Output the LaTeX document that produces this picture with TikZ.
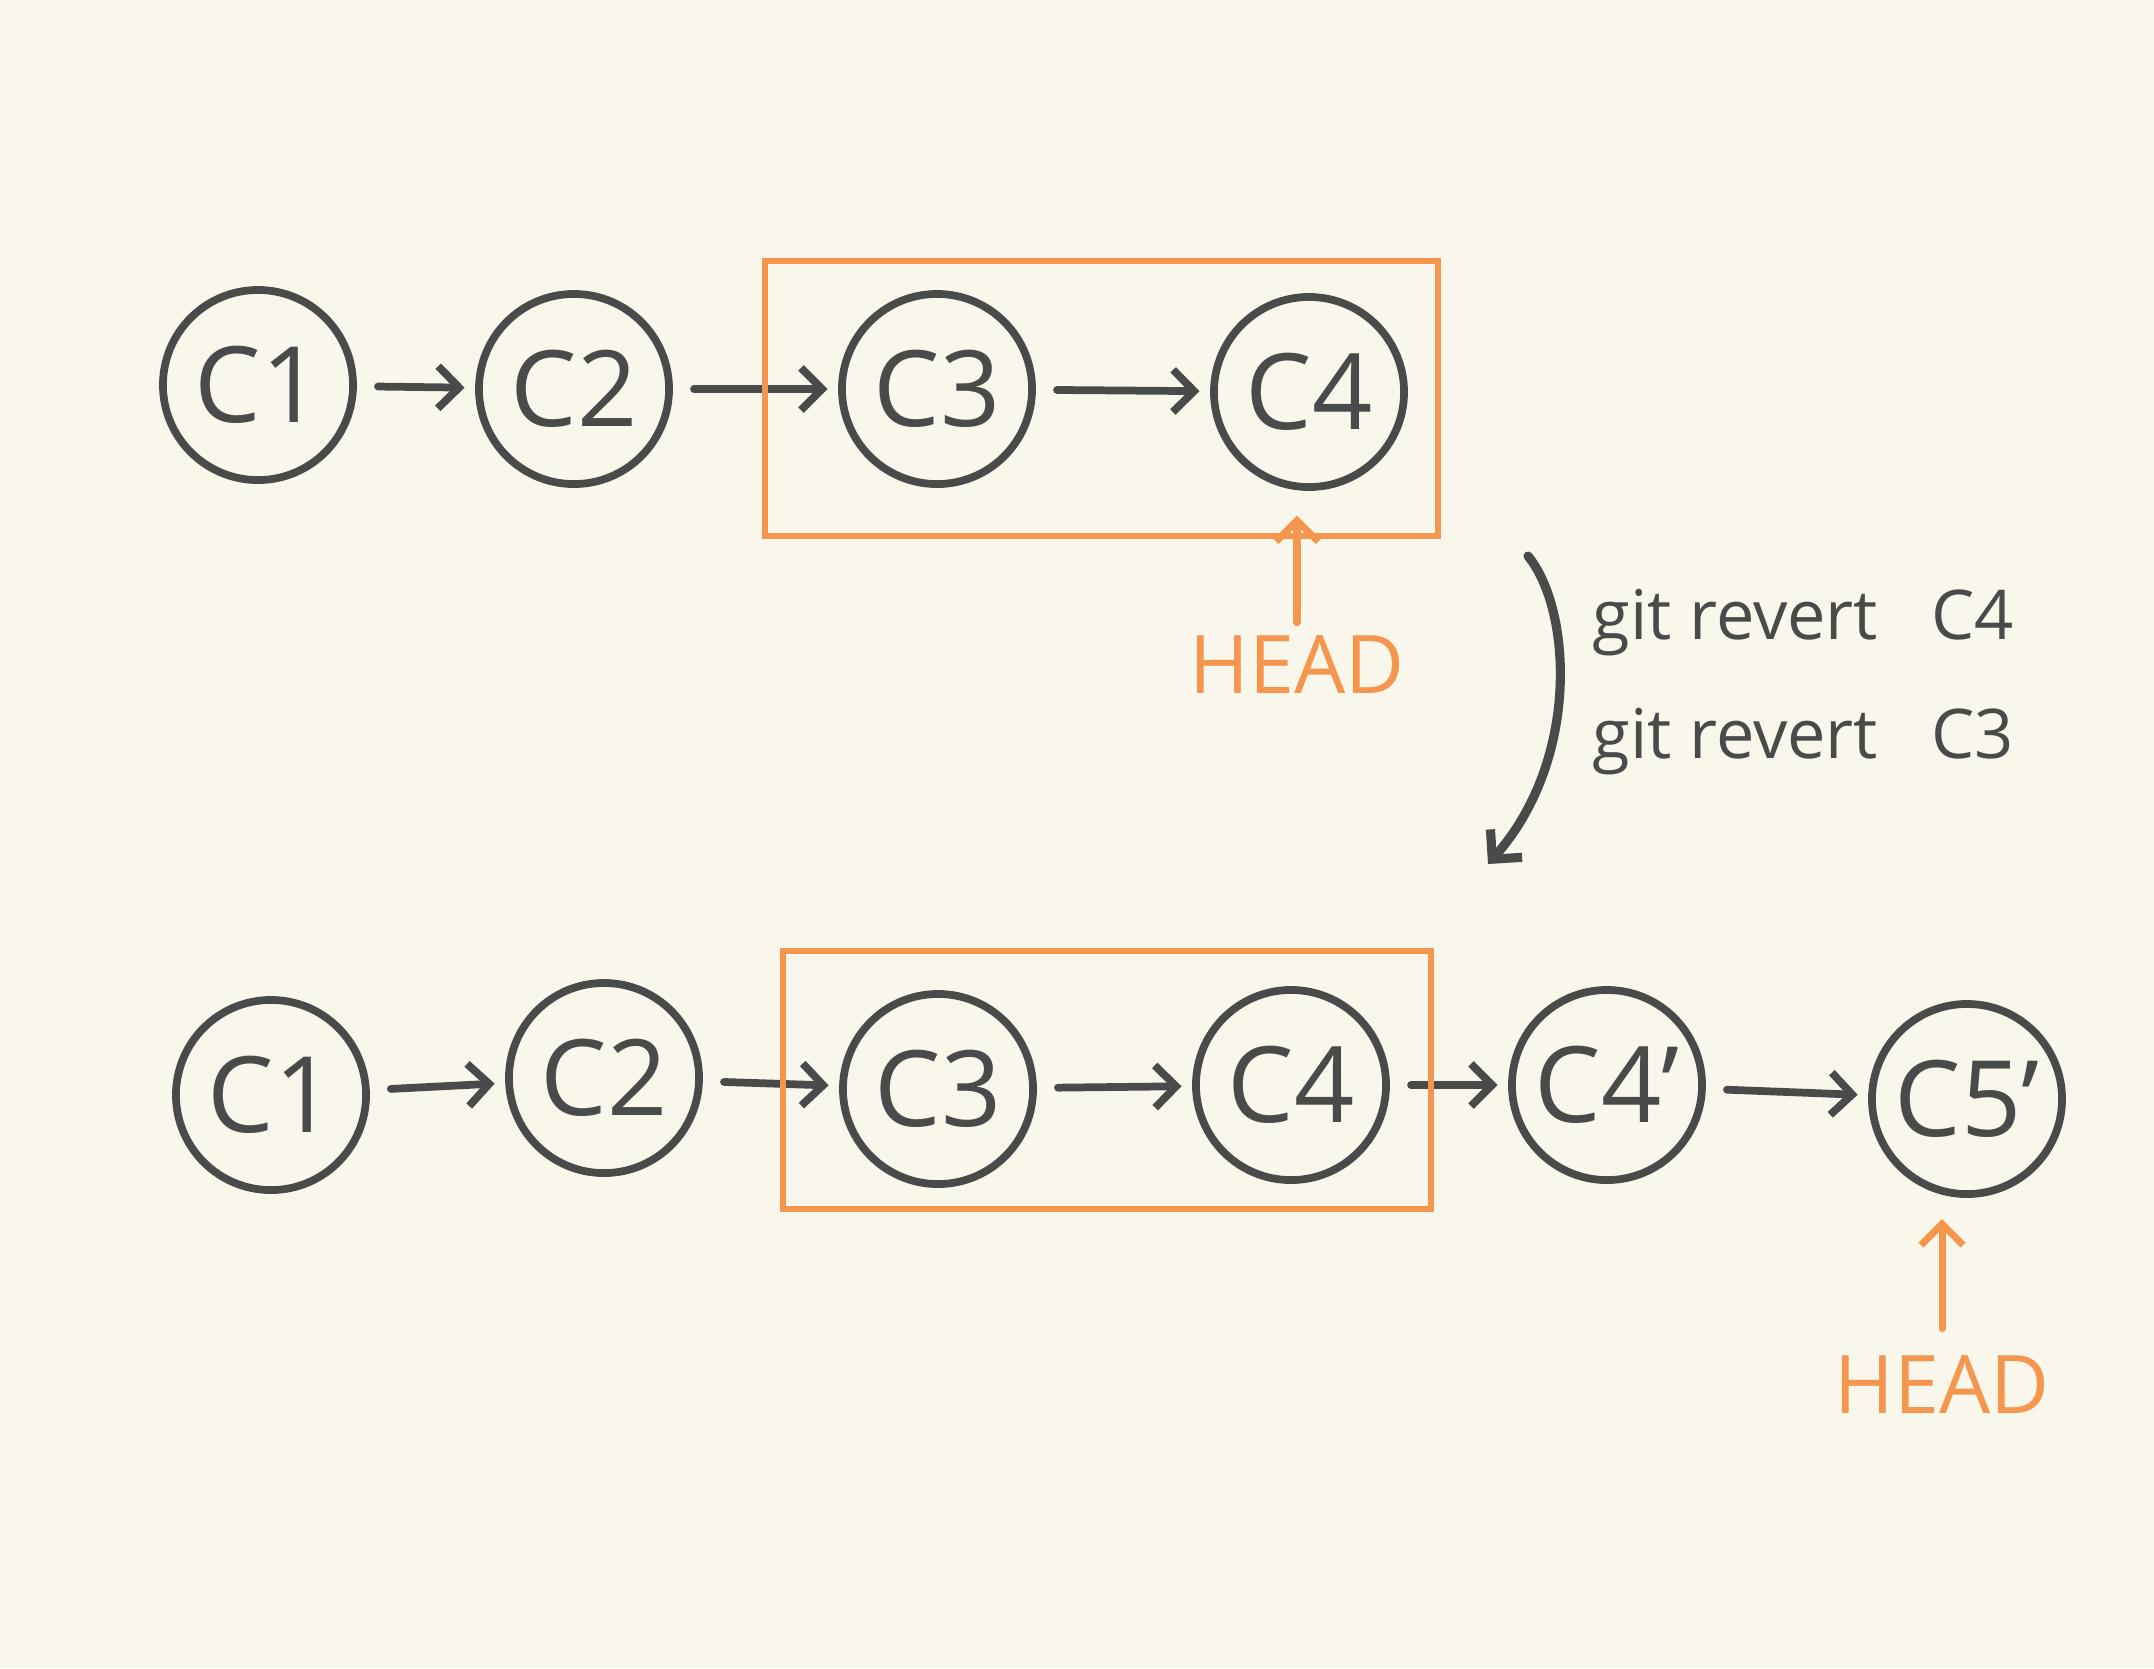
\documentclass[tikz,border=0pt]{standalone}
\usepackage{fontspec}
\setmainfont{Open Sans}
\usetikzlibrary{arrows.meta}
\tikzset{>={Straight Barb[length=6pt,width=12pt]}}
\definecolor{paper}{HTML}{F9F6EB}
\definecolor{ink}{HTML}{4A4A4A}
\definecolor{marker}{HTML}{F5964F}

\begin{document}
\begin{tikzpicture}[x=0.01cm,y=-0.01cm,
		commit/.style={circle,draw=ink,line width=2.2pt,minimum size=1.9cm,inner sep=0pt,text=ink,font=\fontsize{30}{32}\selectfont},
		link/.style={->,line width=2.2pt,ink,line cap=round,shorten <=6pt,shorten >=3pt},
		box/.style={draw=marker,line width=1.8pt},
		headlbl/.style={text=marker,font=\fontsize{23}{25}\selectfont},
		pointer/.style={->,line width=2pt,marker,line cap=round}]
	\fill[paper] (0,0) rectangle (2154,1668);
	\useasboundingbox (0,0) rectangle (2154,1668);
	%-----Before: the commits-----
	\foreach \n/\lbl/\x/\y in {1/C1/258/385, 2/C2/574/389, 3/C3/937/389, 4/C4/1309/392}
		{
			\node[commit] at (\x,\y) (t\n) {\lbl};
		}
	\foreach \a/\b in {1/2,2/3,3/4}
		\path (t\a) edge[link] (t\b);
	\draw[box] (765,261) rectangle (1438,536);
	\node[headlbl] at (1297,664) (thead) {HEAD};
	\draw[pointer] (thead.north) -- ([yshift=-7pt]thead.north |- t4.south);
	%-----The commands-----
	\coordinate (revtop) at (1528,556);
	\coordinate (revbot) at (1488,864);
	\draw[->,line width=2.6pt,ink,line cap=round] (revtop) .. controls (1572,610) and (1580,760) .. (revbot);
	\node[anchor=west,align=left,text=ink,font=\fontsize{19.5}{34}\selectfont] at (1580,682) (cmds)
		{git revert\ \ \ C4\\git revert\ \ \ C3};
	%-----After: the commits-----
	\foreach \n/\lbl/\x/\y in {1/C1/271/1095, 2/C2/604/1078, 3/C3/938/1089, 4/C4/1291/1085, 5/C4’/1607/1085, 6/C5’/1967/1099}
		{
			\node[commit] at (\x,\y) (b\n) {\lbl};
		}
	\foreach \a/\b in {1/2,2/3,3/4,4/5,5/6}
		\path (b\a) edge[link] (b\b);
	\draw[box] (783,951) rectangle (1431,1209);
	\node[headlbl] at (1942,1384) (bhead) {HEAD};
	\draw[pointer,shorten <=4pt] (bhead.north) -- ([yshift=-6pt]bhead.north |- b6.south);
\end{tikzpicture}
\end{document}
